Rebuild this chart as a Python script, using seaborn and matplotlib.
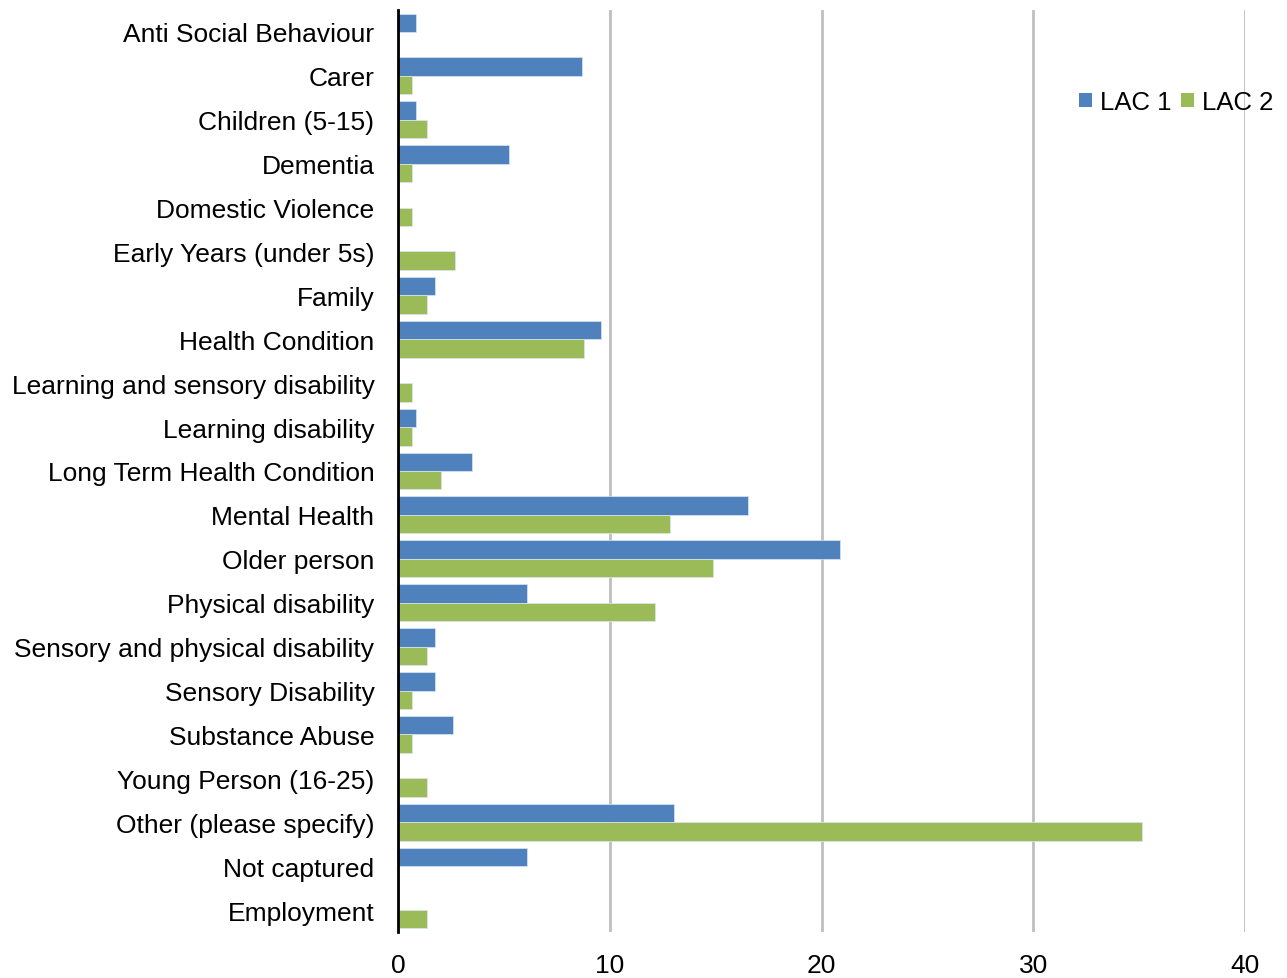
import matplotlib
matplotlib.use("Agg")
import matplotlib.pyplot as plt
import seaborn as sns
import pandas as pd
from matplotlib.patches import Patch

categories = [
    "Anti Social Behaviour", "Carer", "Children (5-15)", "Dementia",
    "Domestic Violence", "Early Years (under 5s)", "Family", "Health Condition",
    "Learning and sensory disability", "Learning disability",
    "Long Term Health Condition", "Mental Health", "Older person",
    "Physical disability", "Sensory and physical disability",
    "Sensory Disability", "Substance Abuse", "Young Person (16-25)",
    "Other (please specify)", "Not captured", "Employment",
]
lac1 = [0.87, 8.70, 0.87, 5.22, 0.0, 0.0, 1.74, 9.57, 0.0, 0.87, 3.48,
        16.52, 20.87, 6.09, 1.74, 1.74, 2.61, 0.0, 13.04, 6.09, 0.0]
lac2 = [0.0, 0.68, 1.35, 0.68, 0.68, 2.70, 1.35, 8.78, 0.68, 0.68, 2.03,
        12.84, 14.86, 12.16, 1.35, 0.68, 0.68, 1.35, 35.14, 0.0, 1.35]
series = ["LAC 1", "LAC 2"]
colors = ["#4F81BD", "#9BBB59"]
xticks = [0, 10, 20, 30, 40]

df = pd.DataFrame({
    "category": categories * 2,
    "value": lac1 + lac2,
    "series": [series[0]] * len(categories) + [series[1]] * len(categories),
})

sns.set_style("white")
plt.rcParams["font.family"] = ["Liberation Sans", "DejaVu Sans"]
plt.rcParams["text.color"] = "black"

fig = plt.figure(figsize=(12.87, 9.79), dpi=100)
ax = fig.add_axes([398 / 1287, 1 - 933 / 979, (1245 - 398) / 1287, 922 / 979])

sns.barplot(data=df, x="value", y="category", hue="series", order=categories,
            hue_order=series, palette=colors, orient="h", width=0.84,
            saturation=1, ax=ax, legend=False, edgecolor="#DCE6F2", linewidth=0.5)

ax.set_xlim(0, 40)
ax.set_ylim(len(categories) - 0.5, -0.5)
ax.set_xticks(xticks)
ax.set_xticklabels([str(t) for t in xticks])
ax.xaxis.grid(True, color="#BFBFBF", linewidth=2)
ax.set_axisbelow(True)
for s in ["top", "right", "bottom"]:
    ax.spines[s].set_visible(False)
ax.spines["left"].set_color("black")
ax.spines["left"].set_linewidth(2)
ax.spines["left"].set_zorder(5)
ax.tick_params(axis="y", length=0, pad=17, labelsize=19, colors="black")
ax.tick_params(axis="x", length=0, pad=15, labelsize=19, colors="black")
ax.set_xlabel("")
ax.set_ylabel("")

handles = [Patch(facecolor=c, edgecolor="none") for c in colors]
fig.legend(handles, series, loc="center left",
           bbox_to_anchor=(1079 / 1287, 1 - 103 / 979), ncol=2, frameon=False,
           fontsize=18.5, handlelength=0.5, handleheight=0.5, handletextpad=0.3,
           columnspacing=0.4, borderaxespad=0, borderpad=0, labelcolor="black")

fig.savefig("out.png", dpi=100)
